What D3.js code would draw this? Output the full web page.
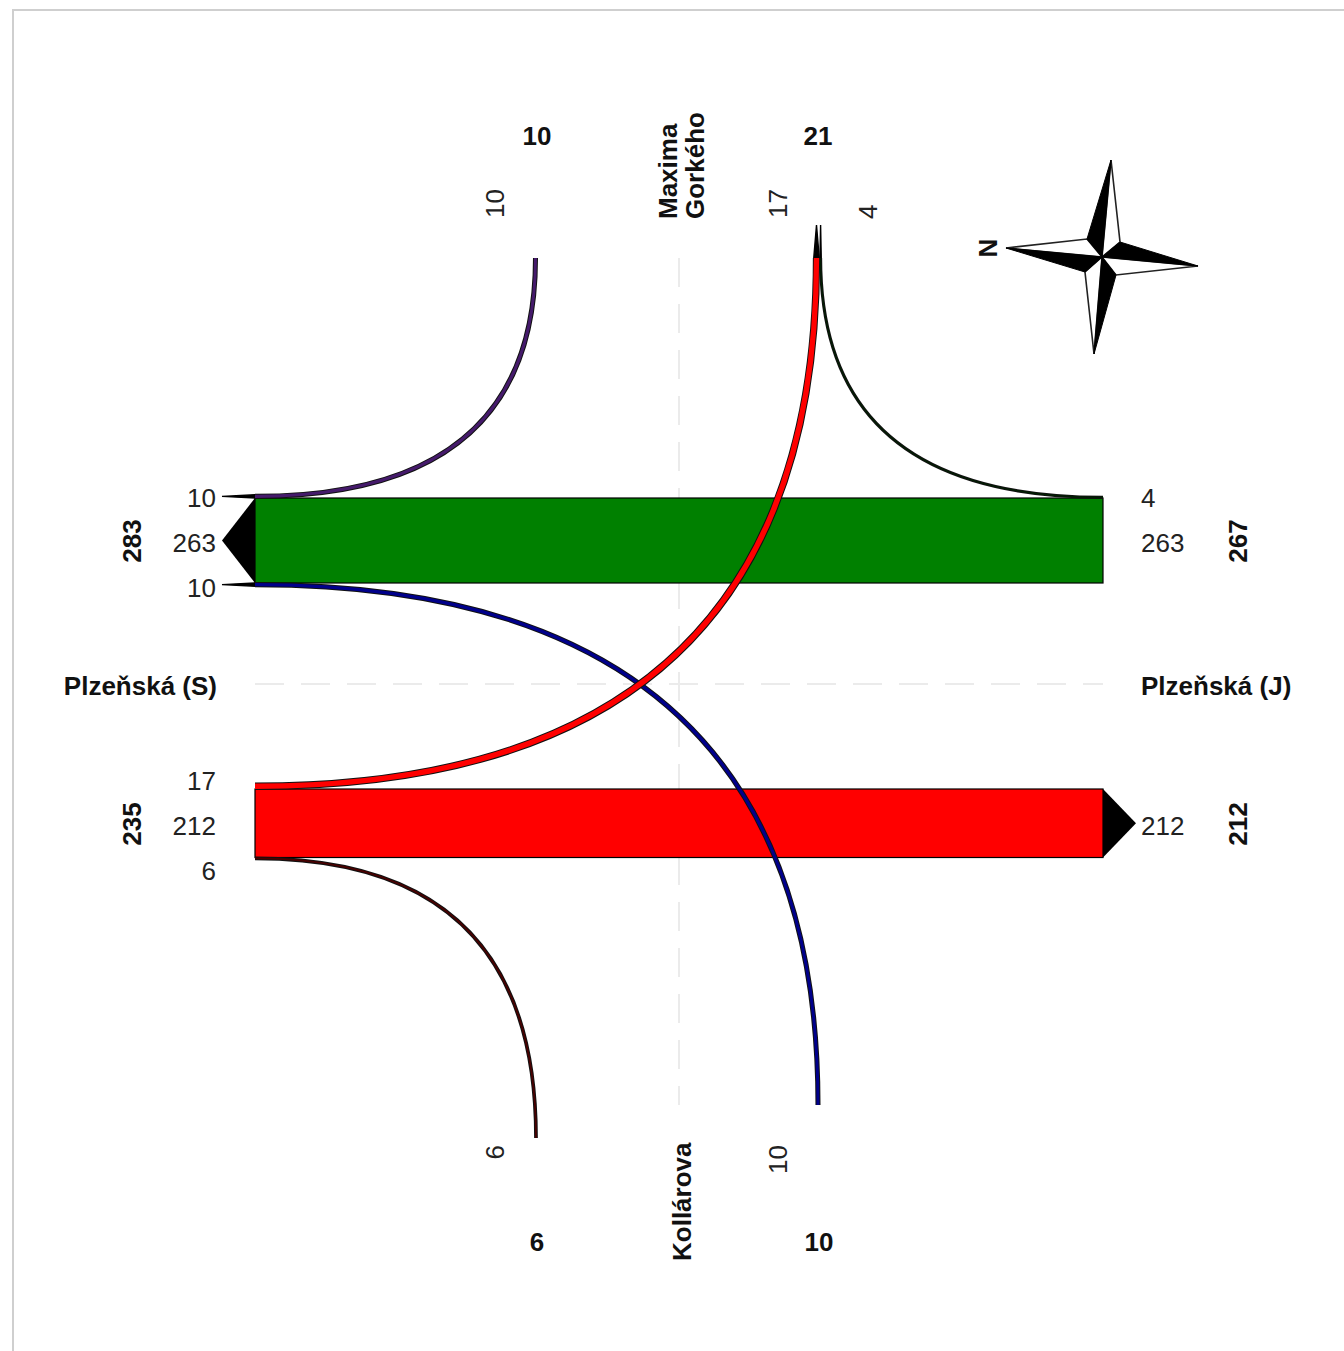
<!DOCTYPE html>
<html>
<head>
<meta charset="utf-8">
<style>
  html, body { margin: 0; padding: 0; background: #fff; }
  svg { display: block; }
  text { font-family: "Liberation Sans", Arial, sans-serif; font-size: 26px; fill: #222; }
  text.bold { font-weight: bold; fill: #111; }
</style>
</head>
<body>
<svg></svg>
<script src="https://cdn.jsdelivr.net/npm/d3@7/dist/d3.min.js"></script>
<script>
const width = 1344;
const height = 1351;

/* traffic values */
const bandNames = ['Plzenska S-J', 'Plzenska J-S'];
const bandValues = [263, 212];
const flowNames = ['S-Gorkeho', 'S-Kollarova', 'Gorkeho-J', 'J-Gorkeho', 'J-Kollarova'];
const flowValues = [10, 10, 17, 4, 6];
const topTotals = ['10', '21'];
const bottomTotals = ['6', '10'];
const topLabels = ['10', '17', '4'];
const bottomLabels = ['6', '10'];
const westLabels = ['10', '263', '10', '17', '212', '6'];
const eastLabels = ['4', '263', '212'];
const westTotals = ['283', '235'];
const eastTotals = ['267', '212'];

/* band width scale, all flow widths come from here */
const wScale = d3.scaleLinear().domain([0, 263]).range([0, 85]);

/* layout of the junction */
const xWest = 255, xEast = 1103;
const yTop = 258;
const bandTop = [498, 789];
const bandColors = ['#008000', '#ff0000'];
const arrowLen = 33;

const flowLayout = [
  { color: '#451a6b', x0: xWest, side: -1, band: 0, x1: 535.5, y1: yTop, arrowAt: 'start' },
  { color: '#00008b', x0: xWest, side: 1, band: 0, x1: 818, y1: 1105, arrowAt: 'start' },
  { color: '#ff0000', x0: xWest, side: -1, band: 1, x1: 816.5, y1: yTop, arrowAt: 'end' },
  { color: '#002000', x0: xEast, side: -1, band: 0, x1: 820.6, y1: yTop, arrowAt: 'end' },
  { color: '#4a0000', x0: xWest, side: 1, band: 1, x1: 536, y1: 1138, arrowAt: 'none' }
];

const svg = d3.select('svg')
  .attr('width', width)
  .attr('height', height);

/* frame, only top and left are visible */
svg.append('path')
  .attr('d', `M13,${height}V10H${width}`)
  .attr('fill', 'none')
  .attr('stroke', '#cfcfcf')
  .attr('stroke-width', 2);

/* dashed street axes */
const guides = [[xWest, 684, xEast, 684], [679, yTop, 679, 1105]];
svg.selectAll('line.guide')
  .data(guides)
  .enter()
  .append('line')
    .classed('guide', true)
    .attr('x1', d => d[0])
    .attr('y1', d => d[1])
    .attr('x2', d => d[2])
    .attr('y2', d => d[3])
    .attr('stroke', '#ebebeb')
    .attr('stroke-width', 2)
    .attr('stroke-dasharray', '29 17');

/* straight bands */
svg.selectAll('rect.band')
  .data(bandValues)
  .enter()
  .append('rect')
    .classed('band', true)
    .attr('x', xWest)
    .attr('y', (d, i) => bandTop[i])
    .attr('width', xEast - xWest)
    .attr('height', d => wScale(d))
    .attr('fill', (d, i) => bandColors[i])
    .attr('stroke', '#000')
    .attr('stroke-width', 1.2);

/* main arrow heads, west on the green band and east on the red one */
const headPath = (x, dir, top, value) => {
  const p = d3.path();
  p.moveTo(x, top);
  p.lineTo(x + dir * arrowLen, top + wScale(value) / 2);
  p.lineTo(x, top + wScale(value));
  p.closePath();
  return p.toString();
};
svg.append('path').attr('d', headPath(xWest, -1, bandTop[0], bandValues[0])).attr('fill', '#000');
svg.append('path').attr('d', headPath(xEast, 1, bandTop[1], bandValues[1])).attr('fill', '#000');

/* turning flows are quadratic curves with the control point in the corner */
const flowData = flowValues.map((v, i) => {
  const l = flowLayout[i];
  const w = wScale(v);
  const edge = l.side < 0 ? bandTop[l.band] : bandTop[l.band] + wScale(bandValues[l.band]);
  return Object.assign({ value: v, name: flowNames[i], w: w, y0: edge + l.side * w / 2 }, l);
});

const flowPath = d => {
  const p = d3.path();
  p.moveTo(d.x0, d.y0);
  p.quadraticCurveTo(d.x1, d.y0, d.x1, d.y1);
  return p.toString();
};

/* thin arrow tips on the end of each flow */
const tipPath = d => {
  const p = d3.path();
  if (d.arrowAt === 'start') {
    p.moveTo(d.x0, d.y0 - d.w / 2);
    p.lineTo(d.x0 - arrowLen, d.y0);
    p.lineTo(d.x0, d.y0 + d.w / 2);
  } else {
    p.moveTo(d.x1 - d.w / 2, d.y1);
    p.lineTo(d.x1, d.y1 - arrowLen);
    p.lineTo(d.x1 + d.w / 2, d.y1);
  }
  p.closePath();
  return p.toString();
};

const drawOrder = [3, 4, 0, 1, 2];
const flows = svg.selectAll('g.flow')
  .data(drawOrder.map(i => flowData[i]))
  .enter()
  .append('g')
    .classed('flow', true);

flows.filter(d => d.arrowAt !== 'none')
  .append('path')
    .attr('d', tipPath)
    .attr('fill', '#000')
    .attr('stroke', '#000')
    .attr('stroke-width', 1.4);

flows.append('path')
  .attr('d', flowPath)
  .attr('fill', 'none')
  .attr('stroke', '#111')
  .attr('stroke-width', d => d.w + 1.8);

flows.append('path')
  .attr('d', flowPath)
  .attr('fill', 'none')
  .attr('stroke', d => d.color)
  .attr('stroke-width', d => Math.max(d.w - 0.2, 0.4));

/* horizontal labels */
const addLabels = (values, pos, cls, anchor) => {
  svg.selectAll(null)
    .data(values)
    .enter()
    .append('text')
      .attr('class', cls)
      .attr('x', (d, i) => pos[i][0])
      .attr('y', (d, i) => pos[i][1])
      .attr('text-anchor', anchor)
      .attr('dominant-baseline', 'central')
      .text(d => d);
};

/* rotated labels */
const addRotated = (values, pos, cls, anchor) => {
  svg.selectAll(null)
    .data(values)
    .enter()
    .append('text')
      .attr('class', cls)
      .attr('transform', (d, i) => `translate(${pos[i][0]}, ${pos[i][1]}) rotate(-90)`)
      .attr('text-anchor', anchor)
      .attr('dominant-baseline', 'central')
      .text(d => d);
};

addLabels(westLabels, [[216, 498], [216, 543], [216, 588], [216, 781], [216, 826], [216, 871]], 'val', 'end');
addLabels(eastLabels, [[1141, 498], [1141, 543], [1141, 826]], 'val', 'start');
addLabels(topTotals, [[537, 136], [818, 136]], 'bold', 'middle');
addLabels(bottomTotals, [[537, 1242], [819, 1242]], 'bold', 'middle');
addLabels(['Plzeňská (S)'], [[217, 686]], 'bold', 'end');
addLabels(['Plzeňská (J)'], [[1141, 686]], 'bold', 'start');

addRotated(westTotals, [[132, 541], [132, 824]], 'bold', 'middle');
addRotated(eastTotals, [[1238, 541], [1238, 824]], 'bold', 'middle');
addRotated(topLabels, [[495, 218], [778, 218], [868, 219]], 'val', 'start');
addRotated(bottomLabels, [[495, 1145], [778, 1145]], 'val', 'end');
addRotated(['Maxima', 'Gorkého'], [[668, 219], [695, 219]], 'bold', 'start');
addRotated(['Kollárova'], [[682, 1261]], 'bold', 'start');
addRotated(['N'], [[988, 248]], 'bold', 'middle');

/* compass rose */
const center = [1102, 257];
const tips = [[1111, 160], [1198, 266], [1094, 354], [1006, 248]];
const shoulders = [[1120, 242], [1116, 275], [1085, 272], [1087, 239]];
const triangle = pts => d3.line()(pts) + 'Z';

/* white half of each arm first, black half on top */
svg.selectAll('path.rose-w')
  .data(tips)
  .enter()
  .append('path')
    .classed('rose-w', true)
    .attr('d', (d, i) => triangle([d, shoulders[i], center]))
    .attr('fill', '#fff')
    .attr('stroke', '#222')
    .attr('stroke-width', 1.6);

svg.selectAll('path.rose-b')
  .data(tips)
  .enter()
  .append('path')
    .classed('rose-b', true)
    .attr('d', (d, i) => triangle([d, shoulders[(i + 3) % 4], center]))
    .attr('fill', '#000')
    .attr('stroke', '#000')
    .attr('stroke-width', 1);
</script>
</body>
</html>
